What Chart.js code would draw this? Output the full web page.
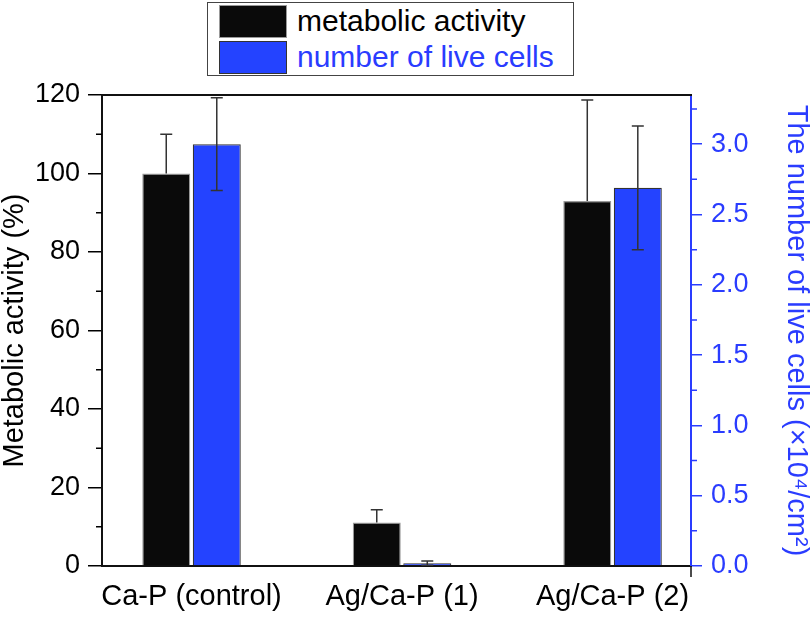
<!DOCTYPE html>
<html>
<head>
<meta charset="utf-8">
<script src="https://cdn.jsdelivr.net/npm/chart.js@4/dist/chart.umd.min.js"></script>
<style>
  html, body { margin:0; padding:0; background:#fff; }
  #wrap { position:relative; width:810px; height:617px; font-family:'Liberation Sans', Arial, sans-serif; }
  #c { position:absolute; left:0; top:0; }
  #legend { position:absolute; left:207px; top:2px; width:367px; height:74px; border:1.5px solid #444; box-sizing:border-box; background:#fff; }
  .sw { position:absolute; left:11px; width:68px; height:33px; box-sizing:border-box; }
  .lt { position:absolute; left:89px; font-size:30px; line-height:33px; white-space:nowrap; }
</style>
</head>
<body>
<div id="wrap">
  <canvas id="c" width="810" height="617"></canvas>
  <div id="legend">
    <div class="sw" style="top:2px;background:#0a0a0a;border:1.5px solid #999;"></div>
    <div class="lt" style="top:1px;color:#000;">metabolic activity</div>
    <div class="sw" style="top:38px;background:#2443ff;border:1.5px solid #333;"></div>
    <div class="lt" style="top:37px;color:#2a3cff;">number of live cells</div>
  </div>
</div>
<script>
const categories = ['Ca-P (control)', 'Ag/Ca-P (1)', 'Ag/Ca-P (2)'];
const metabolicActivity = [100, 11.1, 93.0];
const metabolicError = [10, 3.2, 25.7];
const liveCells = [3.0, 0.02, 2.69];
const liveCellsError = [0.33, 0.015, 0.44];
const leftTicks = [0, 20, 40, 60, 80, 100, 120];
const leftMinorTicks = [10, 30, 50, 70, 90, 110];
const rightTicks = [0.0, 0.5, 1.0, 1.5, 2.0, 2.5, 3.0];
const rightMinorTicks = [0.25, 0.75, 1.25, 1.75, 2.25, 2.75, 3.25];

const FONT = "'Liberation Sans', Arial, sans-serif";
const BLUE = '#2443ff';
const AXBLUE = '#2a3cff';
const errorSets = [metabolicError, liveCellsError];

const extras = {
  id: 'extras',
  afterDatasetsDraw(chart) {
    const ctx = chart.ctx;
    chart.data.datasets.forEach((ds, di) => {
      const meta = chart.getDatasetMeta(di);
      const ys = chart.scales[ds.yAxisID];
      const errs = errorSets[di];
      meta.data.forEach((bar, i) => {
        const v = ds.data[i].y, e = errs[i];
        const yt = ys.getPixelForValue(v + e);
        const yb = di === 0 ? ys.getPixelForValue(v) : ys.getPixelForValue(Math.max(0, v - e));
        const xc = bar.x;
        ctx.save();
        ctx.strokeStyle = '#333';
        ctx.lineWidth = 1.5;
        ctx.beginPath();
        ctx.moveTo(xc, yt); ctx.lineTo(xc, yb);
        ctx.moveTo(xc - 6, yt); ctx.lineTo(xc + 6, yt);
        if (di === 1 && v - e > 0) { ctx.moveTo(xc - 6, yb); ctx.lineTo(xc + 6, yb); }
        ctx.stroke();
        ctx.restore();
      });
    });
  },
  afterDraw(chart) {
    const ctx = chart.ctx;
    const a = chart.chartArea;
    const y = chart.scales.y, y1 = chart.scales.y1;
    ctx.save();
    ctx.lineWidth = 1.5;
    ctx.strokeStyle = '#000';
    ctx.beginPath();
    leftMinorTicks.forEach(v => { const p = y.getPixelForValue(v); ctx.moveTo(a.left - 6, p); ctx.lineTo(a.left, p); });
    ctx.stroke();
    ctx.strokeStyle = AXBLUE;
    ctx.beginPath();
    rightMinorTicks.forEach(v => { const p = y1.getPixelForValue(v); ctx.moveTo(a.right, p); ctx.lineTo(a.right + 6, p); });
    ctx.stroke();
    ctx.strokeStyle = '#111';
    ctx.lineWidth = 2;
    ctx.beginPath();
    ctx.moveTo(a.left - 1, a.top); ctx.lineTo(a.right + 1, a.top);
    ctx.stroke();
    ctx.lineWidth = 1.5;
    ctx.beginPath();
    ctx.moveTo(a.right, a.bottom); ctx.lineTo(a.right, a.bottom + 11);
    ctx.stroke();
    ctx.restore();
  }
};

new Chart(document.getElementById('c'), {
  type: 'bar',
  data: {
    datasets: [
      {
        label: 'metabolic activity',
        data: categories.map((c, i) => ({ x: i + 1, y: metabolicActivity[i] })),
        yAxisID: 'y',
        backgroundColor: '#0a0a0a',
        borderColor: '#9a9a9a',
        borderWidth: 1.2,
        categoryPercentage: 0.48,
        barPercentage: 0.95
      },
      {
        label: 'number of live cells',
        data: categories.map((c, i) => ({ x: i + 1, y: liveCells[i] })),
        yAxisID: 'y1',
        backgroundColor: BLUE,
        borderColor: '#333',
        borderWidth: 1.2,
        categoryPercentage: 0.48,
        barPercentage: 0.95
      }
    ]
  },
  options: {
    responsive: false,
    devicePixelRatio: 1,
    animation: false,
    layout: { padding: { top: 95, left: 0, right: 0, bottom: 0 } },
    plugins: { legend: { display: false }, tooltip: { enabled: false } },
    scales: {
      x: {
        type: 'linear',
        offset: false,
        min: 0.5748,
        max: 3.3727,
        afterBuildTicks: s => { s.ticks = categories.map((c, i) => ({ value: i + 1 })); },
        afterFit: s => { s.height = 51; },
        grid: { display: false, drawTicks: false, offset: false },
        border: { display: true, color: '#111', width: 2 },
        ticks: {
          padding: 14,
          color: '#000',
          font: { family: FONT, size: 29 },
          maxRotation: 0,
          autoSkip: false,
          callback: v => categories[Math.round(v) - 1] || ''
        }
      },
      y: {
        position: 'left',
        min: 0,
        max: 120,
        afterBuildTicks: s => { s.ticks = leftTicks.map(v => ({ value: v })); },
        afterFit: s => { s.width = 102; },
        grid: { display: true, drawOnChartArea: false, drawTicks: true, tickLength: 14, color: '#000', lineWidth: 1.5 },
        border: { display: true, color: '#111', width: 2 },
        ticks: { padding: 8, color: '#000', font: { family: FONT, size: 27 } },
        title: {
          display: true,
          text: 'Metabolic activity (%)',
          color: '#000',
          font: { family: FONT, size: 29, lineHeight: 1 },
          padding: { top: 0, bottom: 0 }
        }
      },
      y1: {
        position: 'right',
        min: 0,
        max: 3.35,
        afterBuildTicks: s => { s.ticks = rightTicks.map(v => ({ value: v })); },
        afterFit: s => { s.width = 119; },
        grid: { display: true, drawOnChartArea: false, drawTicks: true, tickLength: 11, color: AXBLUE, lineWidth: 1.5 },
        border: { display: true, color: AXBLUE, width: 2 },
        ticks: { padding: 9, color: AXBLUE, font: { family: FONT, size: 27 }, callback: v => Number(v).toFixed(1) },
        title: {
          display: true,
          text: 'The number of live cells (×10⁴/cm²)',
          color: AXBLUE,
          font: { family: FONT, size: 29, lineHeight: 1 },
          padding: { top: 0, bottom: 0 }
        }
      }
    }
  },
  plugins: [extras]
});
</script>
</body>
</html>
